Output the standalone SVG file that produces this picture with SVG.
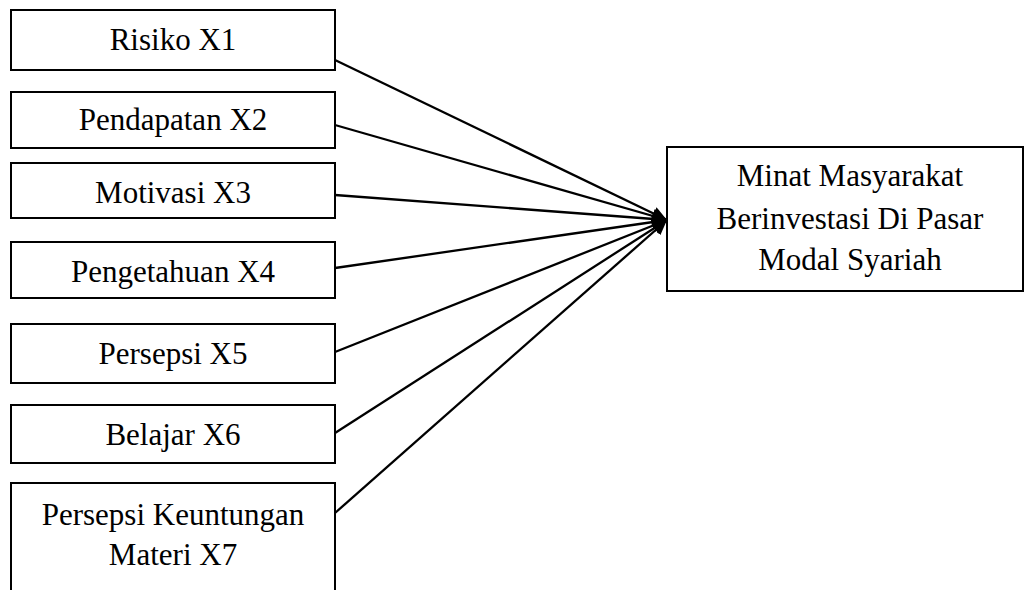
<svg xmlns="http://www.w3.org/2000/svg" width="1025" height="590" viewBox="0 0 1025 590">
<style>
.box{fill:#fff;stroke:#000;stroke-width:2}
.t{font-family:"Liberation Serif","Times New Roman",serif;font-size:31px;fill:#000;text-anchor:middle}
.c{stroke:#000;stroke-width:2.3;fill:none;marker-end:url(#ah)}
</style>
<defs>
<marker id="ah" markerUnits="userSpaceOnUse" markerWidth="16" markerHeight="14" refX="15" refY="7" orient="auto">
<path d="M0,0 L15,7 L0,14 z" fill="#000"/>
</marker>
</defs>
<rect width="1025" height="590" fill="#fff"/>
<g id="connectors">
<line class="c" x1="335" y1="60" x2="667" y2="220"/>
<line class="c" x1="335" y1="125" x2="667" y2="220"/>
<line class="c" x1="335" y1="195" x2="667" y2="220"/>
<line class="c" x1="335" y1="268" x2="667" y2="220"/>
<line class="c" x1="335" y1="352" x2="667" y2="220"/>
<line class="c" x1="335" y1="433" x2="667" y2="220"/>
<line class="c" x1="335" y1="513" x2="667" y2="220"/>
</g>
<g id="x1"><rect class="box" x="11" y="10" width="324" height="60"/><text class="t" x="173" y="50">Risiko X1</text></g>
<g id="x2"><rect class="box" x="11" y="92" width="324" height="56"/><text class="t" x="173" y="130">Pendapatan X2</text></g>
<g id="x3"><rect class="box" x="11" y="163" width="324" height="55"/><text class="t" x="173" y="203">Motivasi X3</text></g>
<g id="x4"><rect class="box" x="11" y="242" width="324" height="56"/><text class="t" x="173" y="282">Pengetahuan X4</text></g>
<g id="x5"><rect class="box" x="11" y="324" width="324" height="59"/><text class="t" x="173" y="364">Persepsi X5</text></g>
<g id="x6"><rect class="box" x="11" y="405" width="324" height="58"/><text class="t" x="173" y="445">Belajar X6</text></g>
<g id="x7"><rect class="box" x="11" y="483" width="324" height="130"/><text class="t" x="173" y="525">Persepsi Keuntungan</text><text class="t" x="173" y="565">Materi X7</text></g>
<g id="y"><rect class="box" x="667" y="147" width="356" height="144"/><text class="t" x="850" y="186">Minat Masyarakat</text><text class="t" x="850" y="229">Berinvestasi Di Pasar</text><text class="t" x="850" y="270">Modal Syariah</text></g>
</svg>
